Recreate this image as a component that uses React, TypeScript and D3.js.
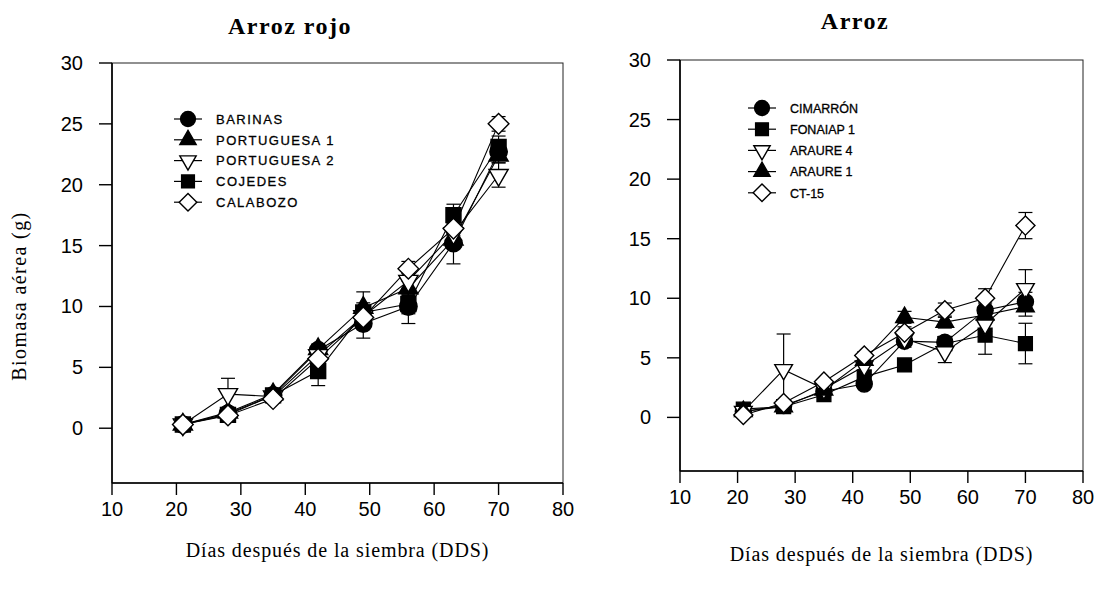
import React from "react";
import * as d3 from "d3";

// days after sowing
const days = [21, 28, 35, 42, 49, 56, 63, 70];
const xTicks = [10, 20, 30, 40, 50, 60, 70, 80];
const yTicks = [0, 5, 10, 15, 20, 25, 30];

// Arroz rojo
const barinas = [0.3, 1.2, 2.7, 6.4, 8.6, 10.0, 15.2, 22.7];
const portuguesa1 = [0.3, 1.3, 2.8, 6.5, 9.9, 11.5, 15.5, 22.4];
const portuguesa2 = [0.3, 2.8, 2.6, 6.0, 9.2, 12.1, 16.0, 20.8];
const cojedes = [0.3, 1.1, 2.7, 4.7, 9.5, 10.2, 17.5, 23.1];
const calabozo = [0.3, 1.05, 2.4, 5.7, 9.1, 13.1, 16.4, 25.0];

const barinasErr = [0.1, 0.2, 0.2, 0.4, 1.2, 1.4, 1.7, 0.6];
const portuguesa1Err = [0.1, 0.2, 0.2, 0.4, 1.3, 0.6, 0.6, 0.6];
const portuguesa2Err = [0.1, 1.3, 0.2, 0.4, 0.8, 0.6, 0.8, 1.0];
const cojedesErr = [0.1, 0.2, 0.2, 1.2, 0.8, 0.8, 0.9, 0.9];
const calabozoErr = [0.1, 0.2, 0.2, 0.4, 0.6, 0.6, 0.6, 0.6];

// Arroz
const cimarron = [0.5, 1.0, 2.2, 2.8, 6.4, 6.3, 9.0, 9.7];
const fonaiap1 = [0.7, 0.9, 1.9, 3.4, 4.4, 6.2, 6.9, 6.2];
const araure4 = [0.5, 4.0, 2.4, 4.3, 6.6, 5.5, 7.8, 10.8];
const araure1 = [0.5, 0.9, 2.3, 4.8, 8.4, 8.0, 8.6, 9.3];
const ct15 = [0.2, 1.2, 3.0, 5.2, 7.1, 9.0, 10.0, 16.1];

const cimarronErr = [0.1, 0.2, 0.2, 0.3, 0.5, 0.5, 0.6, 0.8];
const fonaiap1Err = [0.1, 0.2, 0.2, 0.3, 0.5, 0.5, 1.6, 1.7];
const araure4Err = [0.1, 3.0, 0.2, 0.4, 0.5, 0.9, 0.6, 1.6];
const araure1Err = [0.1, 0.2, 0.2, 0.4, 0.5, 0.5, 0.6, 0.8];
const ct15Err = [0.1, 0.2, 0.2, 0.3, 0.5, 0.6, 0.8, 1.1];

type Shape = "circle" | "triUp" | "triDown" | "square" | "diamond";

const leftSeries = [
  { name: "BARINAS", shape: "circle" as Shape, fill: "#000", values: barinas, err: barinasErr },
  { name: "PORTUGUESA 1", shape: "triUp" as Shape, fill: "#000", values: portuguesa1, err: portuguesa1Err },
  { name: "PORTUGUESA 2", shape: "triDown" as Shape, fill: "#fff", values: portuguesa2, err: portuguesa2Err },
  { name: "COJEDES", shape: "square" as Shape, fill: "#000", values: cojedes, err: cojedesErr },
  { name: "CALABOZO", shape: "diamond" as Shape, fill: "#fff", values: calabozo, err: calabozoErr },
];

const rightSeries = [
  { name: "CIMARRÓN", shape: "circle" as Shape, fill: "#000", values: cimarron, err: cimarronErr },
  { name: "FONAIAP 1", shape: "square" as Shape, fill: "#000", values: fonaiap1, err: fonaiap1Err },
  { name: "ARAURE 4", shape: "triDown" as Shape, fill: "#fff", values: araure4, err: araure4Err },
  { name: "ARAURE 1", shape: "triUp" as Shape, fill: "#000", values: araure1, err: araure1Err },
  { name: "CT-15", shape: "diamond" as Shape, fill: "#fff", values: ct15, err: ct15Err },
];

const sans = "'Liberation Sans', Arial, sans-serif";
const serif = "'Liberation Serif', 'Times New Roman', serif";

function symbolPath(shape: Shape, k: number) {
  if (shape === "circle") return d3.symbol(d3.symbolCircle, 240 * k * k)()!;
  if (shape === "square") return d3.symbol(d3.symbolSquare, 225 * k * k)()!;
  if (shape === "diamond") return d3.symbol(d3.symbolSquare, 215 * k * k)()!;
  return d3.symbol(d3.symbolTriangle, 160 * k * k)()!;
}

function symbolRotate(shape: Shape) {
  if (shape === "diamond") return 45;
  if (shape === "triDown") return 180;
  return 0;
}

function Marker({ shape, fill, x, y, k }: { shape: Shape; fill: string; x: number; y: number; k: number }) {
  return (
    <path
      d={symbolPath(shape, k)}
      transform={`translate(${x},${y}) rotate(${symbolRotate(shape)})`}
      fill={fill}
      stroke="#000"
      strokeWidth={1.4}
    />
  );
}

type PanelProps = {
  series: typeof leftSeries;
  left: number;
  top: number;
  right: number;
  bottom: number;
  title: string;
  titleX: number;
  titleY: number;
  legendX: number;
  legendY: number;
  legendStep: number;
  legendSpacing: number;
  legendSize: number;
  k: number;
  xTitleY: number;
};

function Panel(p: PanelProps) {
  const x = d3.scaleLinear().domain([10, 80]).range([p.left, p.right]);
  const y = d3.scaleLinear().domain([-4.5, 30]).range([p.bottom, p.top]);
  const line = d3
    .line<number>()
    .x((_, i) => x(days[i]))
    .y((v) => y(v));

  return (
    <g>
      <text
        x={p.titleX}
        y={p.titleY}
        textAnchor="middle"
        fontFamily={serif}
        fontWeight="bold"
        fontSize={24}
        letterSpacing={1.5}
      >
        {p.title}
      </text>

      {/* frame */}
      <rect x={p.left} y={p.top} width={p.right - p.left} height={p.bottom - p.top} fill="none" stroke="#222" strokeWidth={1} />
      <line x1={p.left} x2={p.left} y1={p.top} y2={p.bottom} stroke="#000" strokeWidth={1.6} />
      <line x1={p.left} x2={p.right} y1={p.bottom} y2={p.bottom} stroke="#000" strokeWidth={1.6} />

      {yTicks.map((t) => (
        <g key={"y" + t}>
          <line x1={p.left - 13} x2={p.left} y1={y(t)} y2={y(t)} stroke="#000" strokeWidth={1.4} />
          <text x={p.left - 29} y={y(t) + 7} textAnchor="end" fontFamily={sans} fontSize={20}>
            {t}
          </text>
        </g>
      ))}
      {xTicks.map((t) => (
        <g key={"x" + t}>
          <line x1={x(t)} x2={x(t)} y1={p.bottom} y2={p.bottom + 12} stroke="#000" strokeWidth={1.4} />
          <text x={x(t)} y={p.bottom + 33} textAnchor="middle" fontFamily={sans} fontSize={20}>
            {t}
          </text>
        </g>
      ))}

      <text
        x={(p.left + p.right) / 2}
        y={p.xTitleY}
        textAnchor="middle"
        fontFamily={serif}
        fontSize={20}
        letterSpacing={0.9}
      >
        Días después de la siembra (DDS)
      </text>

      {/* lines */}
      {p.series.map((s) => (
        <path key={"l" + s.name} d={line(s.values)!} fill="none" stroke="#000" strokeWidth={1.1} />
      ))}
      {/* error bars */}
      {p.series.map((s) =>
        s.values.map((v, i) => (
          <g key={"e" + s.name + i} stroke="#000" strokeWidth={1.2}>
            <line x1={x(days[i])} x2={x(days[i])} y1={y(v - s.err[i])} y2={y(v + s.err[i])} />
            <line x1={x(days[i]) - 7} x2={x(days[i]) + 7} y1={y(v + s.err[i])} y2={y(v + s.err[i])} />
            <line x1={x(days[i]) - 7} x2={x(days[i]) + 7} y1={y(v - s.err[i])} y2={y(v - s.err[i])} />
          </g>
        ))
      )}
      {/* markers */}
      {p.series.map((s) =>
        s.values.map((v, i) => (
          <Marker key={"m" + s.name + i} shape={s.shape} fill={s.fill} x={x(days[i])} y={y(v)} k={p.k} />
        ))
      )}

      {/* legend */}
      {p.series.map((s, i) => {
        const ly = p.legendY + i * p.legendStep;
        return (
          <g key={"lg" + s.name}>
            <line x1={p.legendX - 14} x2={p.legendX + 14} y1={ly} y2={ly} stroke="#000" strokeWidth={1.2} />
            <Marker shape={s.shape} fill={s.fill} x={p.legendX} y={ly} k={0.85} />
            <text
              x={p.legendX + 28}
              y={ly + 4.8}
              fontFamily={sans}
              fontSize={p.legendSize}
              letterSpacing={p.legendSpacing}
              stroke="#000"
              strokeWidth={0.3}
            >
              {s.name}
            </text>
          </g>
        );
      })}
    </g>
  );
}

export default function App() {
  return (
    <svg width={1103} height={593} style={{ display: "block", position: "absolute", left: 0, top: 0, background: "#fff" }}>
      <rect width={1103} height={593} fill="#fff" />
      <text
        transform="translate(26,296) rotate(-90)"
        textAnchor="middle"
        fontFamily={serif}
        fontSize={20}
        letterSpacing={1.4}
      >
        Biomasa aérea (g)
      </text>
      <Panel
        series={leftSeries}
        left={112}
        top={63}
        right={563}
        bottom={483}
        title="Arroz rojo"
        titleX={290}
        titleY={34}
        legendX={188}
        legendY={119}
        legendStep={20.8}
        legendSpacing={1.5}
        legendSize={13}
        k={1}
        xTitleY={557}
      />
      <Panel
        series={rightSeries}
        left={680}
        top={60}
        right={1083}
        bottom={471}
        title="Arroz"
        titleX={855}
        titleY={29}
        legendX={762}
        legendY={108}
        legendStep={21.2}
        legendSpacing={0}
        legendSize={12.5}
        k={0.92}
        xTitleY={561}
      />
    </svg>
  );
}
